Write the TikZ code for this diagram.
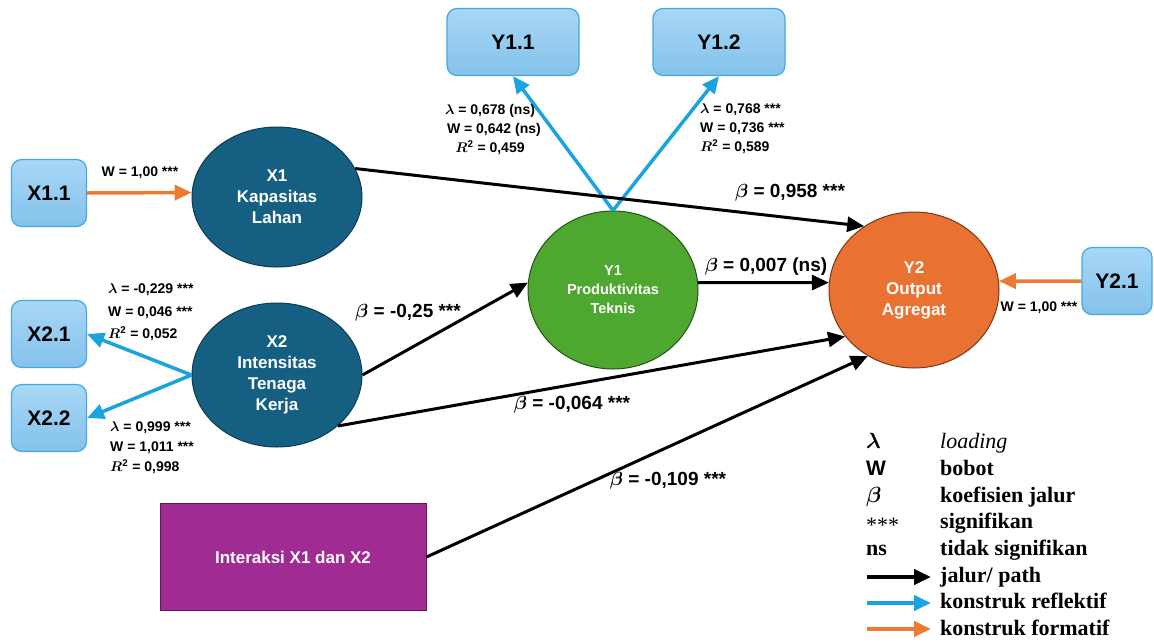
\documentclass[tikz,border=0pt]{standalone}
\usepackage{fix-cm}
\usepackage{fontspec}
\setmainfont{Liberation Sans}
\newfontfamily\timesfont{Liberation Serif}
\usepackage{amsmath,bm}
\usepackage{xcolor}
\usetikzlibrary{arrows.meta,shapes.geometric}

\definecolor{xblue}{HTML}{156082}
\definecolor{ygreen}{HTML}{4EA72E}
\definecolor{yorange}{HTML}{E97132}
\definecolor{ipurple}{HTML}{A02B93}
\definecolor{boxtop}{HTML}{A8D7F6}
\definecolor{boxbot}{HTML}{84C2EB}
\definecolor{boxline}{HTML}{45A8E0}
\definecolor{reflblue}{HTML}{1BA3DF}
\definecolor{formorange}{HTML}{EE7A31}

\begin{document}
\begin{tikzpicture}[x=1pt,y=-1pt]
\tikzset{indicator/.style={rectangle,rounded corners=10pt,draw=boxline,line width=1.2pt,top color=boxtop,bottom color=boxbot,font=\fontsize{21}{25}\selectfont\bfseries,minimum height=67pt}}
\tikzset{latent/.style={ellipse,inner sep=0pt,line width=1pt,text=white,align=center,font=\fontsize{17}{21}\selectfont\bfseries}}
\tikzset{lbl/.style={inner sep=0pt,font=\fontsize{14}{19}\selectfont\bfseries}}
\tikzset{blbl/.style={inner sep=0pt,font=\fontsize{19}{23}\selectfont\bfseries}}
\tikzset{legsym/.style={anchor=base west,inner sep=0pt,font=\fontsize{22}{26}\selectfont\timesfont\bfseries}}
\tikzset{legtxt/.style={anchor=base west,inner sep=0pt,font=\fontsize{22}{26}\selectfont\timesfont\bfseries}}
\tikzset{pathline/.style={-{Triangle[length=17pt,width=15pt]},line width=3pt,black}}
\tikzset{reflline/.style={-{Triangle[length=17pt,width=15pt]},line width=3.5pt,reflblue}}
\tikzset{formline/.style={-{Triangle[length=17pt,width=15pt]},line width=3.5pt,formorange}}

\useasboundingbox (0,0) rectangle (1154,641);

\node[indicator,minimum width=75pt] (X11) at (49,193) {X1.1};
\node[indicator,minimum width=75pt] (X21) at (49,334) {X2.1};
\node[indicator,minimum width=75pt] (X22) at (49,418) {X2.2};
\node[indicator,minimum width=132pt] (Y11) at (513,42) {Y1.1};
\node[indicator,minimum width=132pt] (Y12) at (719,42) {Y1.2};
\node[indicator,minimum width=70pt] (Y21) at (1117,281) {Y2.1};

\node[latent,fill=xblue,draw=xblue!60!black,minimum width=170pt,minimum height=140pt] (X1) at (277,197) {X1\\Kapasitas\\Lahan};
\node[latent,fill=xblue,draw=xblue!60!black,minimum width=170pt,minimum height=144pt] (X2) at (277,375) {X2\\Intensitas\\Tenaga\\Kerja};
\node[latent,fill=ygreen,draw=ygreen!50!black,minimum width=170pt,minimum height=158pt,font=\fontsize{14.5}{19}\selectfont\bfseries] (Y1) at (613,290) {Y1\\Produktivitas\\Teknis};
\node[latent,fill=yorange,draw=yorange!50!black,minimum width=170pt,minimum height=156pt] (Y2) at (914,290) {Y2\\Output\\Agregat};
\node[rectangle,fill=ipurple,draw=ipurple!60!black,line width=1pt,minimum width=266pt,minimum height=107pt,text=white,font=\fontsize{17}{21}\selectfont\bfseries] (Int) at (293,557) {Interaksi X1 dan X2};

\draw[formline] (X11.east) -- (X1.177);
\draw[reflline] (X2.west) -- (X21.east);
\draw[reflline] (X2.west) -- (X22.east);
\draw[reflline] (Y1.north) -- (Y11.south);
\draw[reflline] (Y1.north) -- (Y12.south);
\draw[formline] (Y21.west) -- (Y2.6);
\draw[pathline] (X1.20) -- (Y2.128);
\draw[pathline] (Y1.5) -- (Y2.175);
\draw[pathline] (X2.east) -- (Y1.175);
\draw[pathline] (X2.-40) -- (Y2.214);
\draw[pathline] (Int.east) -- (Y2.235);

\node[lbl] (wX11) at (140,173) {W = 1,00 ***};
\node[lbl,anchor=north west,align=left,font=\fontsize{14}{22.5}\selectfont\bfseries] (lX21) at (108,284) {$\bm{\lambda}$ = -0,229 ***\\W = 0,046 ***\\$\bm{R}^{\mathbf{2}}$ = 0,052};
\node[lbl,anchor=north west,align=left,font=\fontsize{14}{20}\selectfont\bfseries] (lX22) at (110,422) {$\bm{\lambda}$ = 0,999 ***\\W = 1,011 ***\\$\bm{R}^{\mathbf{2}}$ = 0,998};
\node[lbl,anchor=north,align=center] (lY11) at (490,104) {$\bm{\lambda}$ = 0,678 (ns)\\\ \ W = 0,642 (ns)\\$\bm{R}^{\mathbf{2}}$ = 0,459};
\node[lbl,anchor=north west,align=left] (lY12) at (700,104) {$\bm{\lambda}$ = 0,768 ***\\W = 0,736 ***\\$\bm{R}^{\mathbf{2}}$ = 0,589};
\node[lbl] (wY21) at (1039,308) {W = 1,00 ***};

\node[blbl] (b1) at (790,193) {$\bm{\beta}$ = 0,958 ***};
\node[blbl] (b2) at (766,267) {$\bm{\beta}$ = 0,007 (ns)};
\node[blbl] (b3) at (408,313) {$\bm{\beta}$ = -0,25 ***};
\node[blbl] (b4) at (572,405) {$\bm{\beta}$ = -0,064 ***};
\node[blbl] (b5) at (668,481) {$\bm{\beta}$ = -0,109 ***};

\node[legsym] (slam) at (866,448) {$\bm{\lambda}$};
\node[legsym,font=\fontsize{21}{26}\selectfont\bfseries] (sW) at (866,475) {W};
\node[legsym] (sbeta) at (866,502) {$\bm{\beta}$};
\node[legsym,font=\fontsize{22}{26}\selectfont\timesfont] (sstar) at (866,532) {***};
\node[legsym] (sns) at (866,555) {ns};
\node[legtxt,font=\fontsize{22}{26}\selectfont\timesfont\itshape] (tlam) at (940,448) {loading};
\node[legtxt] (tW) at (940,475) {bobot};
\node[legtxt] (tbeta) at (940,502) {koefisien jalur};
\node[legtxt] (tstar) at (940,528) {signifikan};
\node[legtxt] (tns) at (940,555) {tidak signifikan};
\node[legtxt] (tpath) at (940,582) {jalur/ path};
\node[legtxt] (trefl) at (940,608) {konstruk reflektif};
\node[legtxt] (tform) at (940,635) {konstruk formatif};
\coordinate (ap1) at (867,577);
\coordinate (aq1) at (931,577);
\coordinate (ap2) at (867,603);
\coordinate (aq2) at (931,603);
\coordinate (ap3) at (867,629);
\coordinate (aq3) at (931,629);
\draw[pathline,line width=4pt] (ap1) -- (aq1);
\draw[reflline,line width=4pt] (ap2) -- (aq2);
\draw[formline,line width=4pt] (ap3) -- (aq3);

\end{tikzpicture}
\end{document}
